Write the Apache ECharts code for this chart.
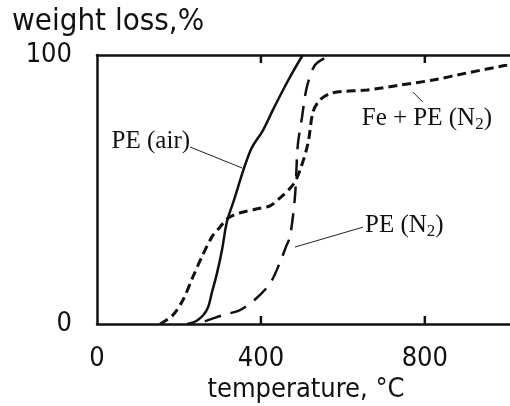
<!DOCTYPE html>
<html>
<head>
<meta charset="utf-8">
<script src="https://cdn.jsdelivr.net/npm/echarts@6/dist/echarts.min.js"></script>
<style>
  html, body { margin: 0; padding: 0; background: #fff; }
  #chart { width: 510px; height: 406px; }
</style>
</head>
<body>
<div id="chart"></div>
<script>
// temperature (C) / weight loss (%)
var peAir = [
  [220, 0], [246, 1.5], [268, 5.2], [280, 11.5], [293, 19], [305, 27.5],
  [317, 38], [332, 45], [375, 64.7], [405, 72], [429, 79.5],
  [454, 87], [478, 93.7], [502, 100]
];
var fePeN2 = [
  [154, 0], [185, 3.3], [210, 9], [234, 17.5], [256, 25], [280, 32.3],
  [300, 36], [320, 39.4], [349, 41.3], [398, 43], [422, 43.9], [446, 46.8],
  [478, 51.7], [495, 57], [515, 67.3], [527, 78.8], [544, 83.3], [576, 86],
  [659, 87], [739, 88.8], [820, 90.7], [902, 93.3], [1000, 96.3], [1010, 96.8]
];
var peN2 = [
  [263, 1], [280, 1.9], [307, 3.3], [349, 5.2], [385, 9], [422, 15],
  [446, 22.7], [463, 29.4], [471, 32.3], [483, 47.2], [490, 66.5],
  [500, 76.6], [512, 88], [532, 96.3], [561, 99.3], [576, 100]
];
var xTicks = [0, 400, 800];
var yTicks = [0, 100];
var innerTicks = [400, 800];

var serifFont = '"Liberation Serif", "Times New Roman", serif';
var lettering = '"DejaVu Sans Condensed", "DejaVu Sans", sans-serif';

function note(text, sub, pos) {
  return {
    show: true,
    position: pos,
    distance: 0,
    formatter: sub ? '{m|' + text + '}{s|2}{m|)}' : '{m|' + text + '}',
    rich: {
      m: { fontFamily: serifFont, fontSize: 25, color: '#111', lineHeight: 25, verticalAlign: 'top' },
      s: { fontFamily: serifFont, fontSize: 17, color: '#111', lineHeight: 17, verticalAlign: 'top', padding: [11, 0, 0, 0] }
    }
  };
}

function leader(a, b) {
  return {
    silent: true,
    symbol: 'none',
    label: { show: false },
    lineStyle: { color: '#222', width: 1, type: 'solid' },
    data: [[{ coord: a }, { coord: b }]]
  };
}

function tag(coord, label) {
  return {
    silent: true,
    symbol: 'circle',
    symbolSize: 0,
    data: [{ coord: coord, label: label }]
  };
}

function onlyTicks(v) {
  return xTicks.indexOf(v) >= 0 ? String(v) : '';
}

var xBase = {
  type: 'value',
  min: 0, max: 1020, interval: 400,
  axisLine: { show: true, onZero: false, lineStyle: { color: '#111', width: 2.5 } },
  axisTick: { show: false },
  splitLine: { show: false }
};

var option = {
  backgroundColor: '#fff',
  animation: false,
  title: {
    text: 'weight loss,%',
    left: 7,
    top: 1,
    textStyle: { fontFamily: lettering, fontSize: 31, fontWeight: 'lighter', color: '#111' }
  },
  grid: { left: 97, right: -5, top: 55, bottom: 82, outerBoundsMode: 'none', containLabel: false },
  xAxis: [Object.assign({}, xBase, {
    name: 'temperature, °C',
    nameLocation: 'middle',
    nameGap: 50,
    nameTextStyle: { fontFamily: lettering, fontSize: 27, fontWeight: 'lighter', color: '#111' },
    axisLabel: { formatter: onlyTicks, margin: 21, fontFamily: lettering, fontSize: 27, fontWeight: 'lighter', color: '#111' }
  }), Object.assign({}, xBase, {
    position: 'top',
    axisLabel: { show: false }
  })],
  yAxis: {
    type: 'value',
    min: 0, max: 100, interval: 100,
    axisLine: { show: true, onZero: false, lineStyle: { color: '#111', width: 2.5 } },
    axisTick: { show: false },
    axisLabel: { margin: 25, fontFamily: lettering, fontSize: 27, fontWeight: 'lighter', color: '#111',
      formatter: function (v) { return yTicks.indexOf(v) >= 0 ? String(v) : ''; } },
    splitLine: { show: false }
  },
  series: [{
    name: 'PE (air)',
    type: 'line',
    data: peAir,
    smooth: 0.4,
    showSymbol: false,
    lineStyle: { color: '#111', width: 2.5, type: 'solid' },
    markLine: leader([227, 65.8], [354, 58]),
    markPoint: tag([227, 68], note('PE (air)', false, 'left'))
  }, {
    name: 'Fe + PE (N2)',
    type: 'line',
    data: fePeN2,
    smooth: 0.3,
    showSymbol: false,
    lineStyle: { color: '#111', width: 3, type: [9, 5] },
    markLine: leader([771, 86.2], [795, 82.5]),
    markPoint: tag([646, 76.6], note('Fe + PE (N', true, 'right'))
  }, {
    name: 'PE (N2)',
    type: 'line',
    data: peN2,
    smooth: 0.3,
    showSymbol: false,
    lineStyle: { color: '#111', width: 2.5, type: [17, 10] },
    markLine: leader([649, 36], [483, 28.6]),
    markPoint: tag([654, 36.8], note('PE (N', true, 'right'))
  }]
};

var chart = echarts.init(document.getElementById('chart'));
chart.setOption(option);

// inward tick marks on the bottom and top frame, placed through the axis scales
var tickLen = 8;
var tickGraphics = [];
innerTicks.forEach(function (t) {
  var lo = chart.convertToPixel({ xAxisIndex: 0, yAxisIndex: 0 }, [t, 0]);
  var hi = chart.convertToPixel({ xAxisIndex: 0, yAxisIndex: 0 }, [t, 100]);
  tickGraphics.push({
    type: 'rect', silent: true, z: 100,
    shape: { x: lo[0] - 1.25, y: lo[1] - tickLen, width: 2.5, height: tickLen },
    style: { fill: '#111' }
  });
  tickGraphics.push({
    type: 'rect', silent: true, z: 100,
    shape: { x: hi[0] - 1.25, y: hi[1], width: 2.5, height: tickLen },
    style: { fill: '#111' }
  });
});
chart.setOption({ graphic: { elements: tickGraphics } });
</script>
</body>
</html>
